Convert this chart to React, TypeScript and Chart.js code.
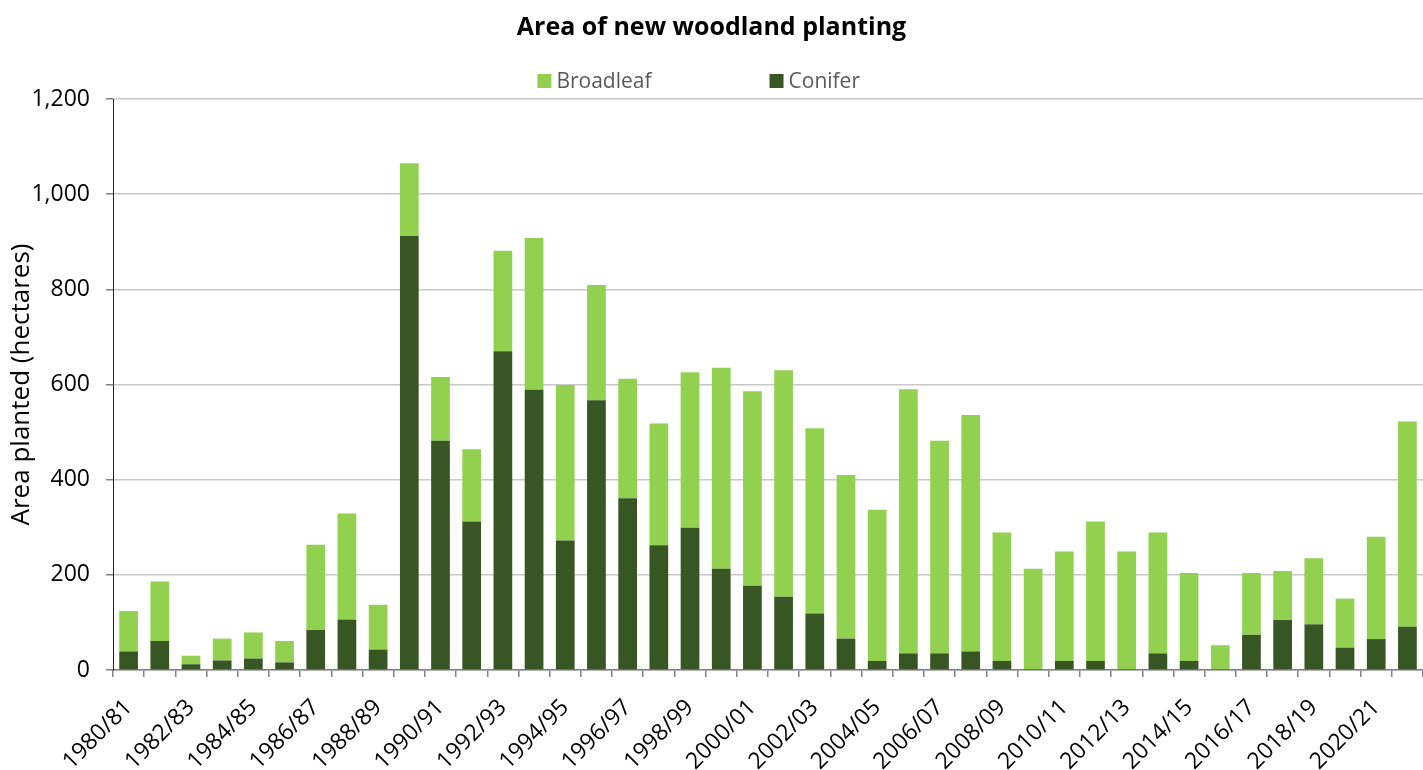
import React, { useEffect, useRef } from "react";
import { Chart, registerables } from "chart.js";

Chart.register(...registerables);

const years = [
  "1980/81", "1981/82", "1982/83", "1983/84", "1984/85", "1985/86", "1986/87",
  "1987/88", "1988/89", "1989/90", "1990/91", "1991/92", "1992/93", "1993/94",
  "1994/95", "1995/96", "1996/97", "1997/98", "1998/99", "1999/00", "2000/01",
  "2001/02", "2002/03", "2003/04", "2004/05", "2005/06", "2006/07", "2007/08",
  "2008/09", "2009/10", "2010/11", "2011/12", "2012/13", "2013/14", "2014/15",
  "2015/16", "2016/17", "2017/18", "2018/19", "2019/20", "2020/21", "2021/22",
];

// Hectares planted per year
const conifer = [
  39, 61, 12, 20, 24, 16, 84, 106, 43, 912,
  482, 312, 670, 589, 272, 567, 361, 262, 299, 213,
  177, 154, 119, 66, 19, 35, 35, 39, 19, 2,
  19, 19, 2, 35, 19, 2, 74, 105, 96, 47,
  65, 91,
];

const broadleaf = [
  85, 125, 18, 46, 55, 45, 179, 223, 94, 153,
  134, 152, 211, 319, 327, 242, 251, 256, 327, 422,
  409, 476, 389, 344, 318, 555, 447, 497, 270, 211,
  230, 293, 247, 254, 185, 50, 130, 103, 139, 103,
  215, 431,
];

const yTicks = [0, 200, 400, 600, 800, 1000, 1200];

const COLOR_BROADLEAF = "#92D050";
const COLOR_CONIFER = "#375623";
const FONT = "'Open Sans', 'Noto Sans', sans-serif";

// Legend drawn as a single spaced row under the title
const legendRow = {
  id: "legendRow",
  afterDraw(chart: any) {
    const { ctx } = chart;
    const items = [
      { text: "Broadleaf", color: COLOR_BROADLEAF },
      { text: "Conifer", color: COLOR_CONIFER },
    ];
    const box = 14;
    const gapBoxText = 5;
    const gapItems = 118;
    ctx.save();
    ctx.font = `21px ${FONT}`;
    ctx.textBaseline = "middle";
    ctx.textAlign = "left";
    const widths = items.map((it) => box + gapBoxText + ctx.measureText(it.text).width);
    const total = widths.reduce((a, b) => a + b, 0) + gapItems * (items.length - 1);
    let x = chart.width * 0.491 - total / 2;
    const y = 81;
    items.forEach((it, i) => {
      ctx.fillStyle = it.color;
      ctx.fillRect(x, y - box / 2, box, box);
      ctx.fillStyle = "#595959";
      ctx.fillText(it.text, x + box + gapBoxText, y + 1);
      x += widths[i] + gapItems;
    });
    ctx.restore();
  },
};

export default function App() {
  const canvasRef = useRef<HTMLCanvasElement | null>(null);

  useEffect(() => {
    if (!canvasRef.current) return;
    const chart = new Chart(canvasRef.current, {
      type: "bar",
      data: {
        labels: years,
        datasets: [
          {
            label: "Conifer",
            data: conifer,
            backgroundColor: COLOR_CONIFER,
            borderWidth: 0,
          },
          {
            label: "Broadleaf",
            data: broadleaf,
            backgroundColor: COLOR_BROADLEAF,
            borderWidth: 0,
          },
        ],
      },
      plugins: [legendRow],
      options: {
        animation: false,
        responsive: true,
        maintainAspectRatio: false,
        layout: { padding: { left: 0, right: 0, top: 0, bottom: 0 } },
        datasets: {
          bar: { categoryPercentage: 1, barPercentage: 0.6 },
        },
        plugins: {
          legend: { display: false },
          tooltip: { enabled: false },
          title: {
            display: true,
            text: "Area of new woodland planting",
            color: "#000",
            font: { family: FONT, size: 25, weight: "bold" },
            padding: { top: 13, bottom: 56 },
          },
        },
        scales: {
          x: {
            stacked: true,
            offset: true,
            grid: {
              offset: true,
              drawOnChartArea: false,
              drawTicks: true,
              tickLength: 7,
              tickColor: "#808080",
              lineWidth: 1.5,
            },
            border: { display: true, color: "#808080", width: 1.5 },
            ticks: {
              autoSkip: false,
              maxRotation: 45,
              minRotation: 45,
              color: "#000",
              padding: 17,
              font: { family: FONT, size: 23 },
              callback: (_v: any, i: number) => (i % 2 === 0 ? years[i] : ""),
            },
            afterFit: (scale: any) => {
              scale.height = 100;
              scale.paddingRight = 0;
            },
          },
          y: {
            stacked: true,
            min: 0,
            max: 1200,
            afterBuildTicks: (scale: any) => {
              scale.ticks = yTicks.map((v) => ({ value: v }));
            },
            grid: {
              color: "#c8c8c8",
              lineWidth: 1.5,
              drawTicks: true,
              tickLength: 7,
              tickColor: "#808080",
            },
            border: { display: true, color: "#222", width: 1 },
            ticks: {
              color: "#000",
              padding: 16,
              font: { family: FONT, size: 23 },
              callback: (v: any) => Number(v).toLocaleString("en-US"),
            },
            title: {
              display: true,
              text: "Area planted (hectares)",
              color: "#000",
              font: { family: FONT, size: 26 },
              padding: { top: 6, bottom: 0 },
            },
            afterFit: (scale: any) => {
              scale.width = 113;
            },
          },
        },
      },
    });
    return () => chart.destroy();
  }, []);

  return (
    <div style={{ position: "fixed", left: 0, top: 0, width: 1423, height: 770, background: "#fff" }}>
      <canvas ref={canvasRef} />
    </div>
  );
}
